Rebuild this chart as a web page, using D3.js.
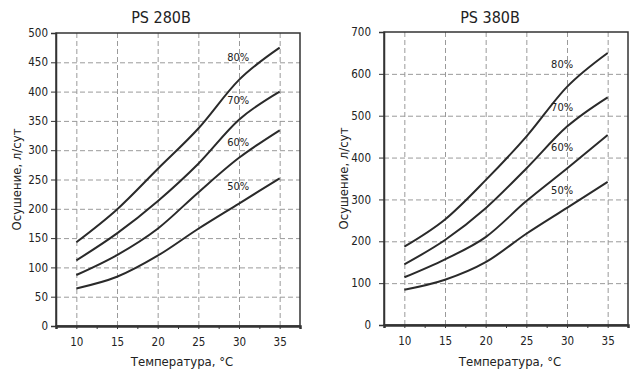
<!DOCTYPE html>
<html>
<head>
<meta charset="utf-8">
<script src="https://cdn.jsdelivr.net/npm/d3@7"></script>
<style>
  body { margin: 0; background: #fff; }
  svg text { font-family: "Liberation Sans Narrow", "DejaVu Sans Condensed", "Liberation Sans", sans-serif; fill: #222; }
  .grid line { stroke: #9a9a9a; stroke-dasharray: 5,3; stroke-width: 1; }
  .grid path { display: none; }
  .axis path, .axis line { stroke: #333; }
</style>
</head>
<body>
<div id="chart"></div>
<script>
//Temperature points shared by both charts
let temps = [10, 15, 20, 25, 30, 35];
let rh_labels = ['80%', '70%', '60%', '50%'];
let x_ticks = [10, 15, 20, 25, 30, 35];

//PS 280B dehumidification, l/day
let ps280_80 = [143, 199, 268, 337, 420, 475];
let ps280_70 = [112, 158, 213, 277, 352, 400];
let ps280_60 = [87, 121, 166, 228, 287, 334];
let ps280_50 = [64, 84, 120, 166, 209, 252];
let ps280_label_t = [29.9, 29.9, 29.9, 29.9];
let ps280_label_v = [459, 386, 314, 239];
let ps280_y_ticks = [0, 50, 100, 150, 200, 250, 300, 350, 400, 450, 500];

//PS 380B dehumidification, l/day
let ps380_80 = [187, 252, 346, 450, 569, 650];
let ps380_70 = [145, 203, 279, 374, 474, 544];
let ps380_60 = [114, 157, 210, 296, 374, 454];
let ps380_50 = [84, 108, 150, 218, 280, 342];
let ps380_label_t = [29.4, 29.4, 29.4, 29.4];
let ps380_label_v = [623, 521, 424, 322];
let ps380_y_ticks = [0, 100, 200, 300, 400, 500, 600, 700];

let svg = d3.select('#chart').append('svg').attr('width', 638).attr('height', 377)

//Panel layout
let panels = [
    {title: 'PS 280B', left: 56, top: 33, width: 244, height: 293, ymax: 500, yticks: ps280_y_ticks,
     series: [ps280_80, ps280_70, ps280_60, ps280_50], label_t: ps280_label_t, label_v: ps280_label_v,
     ypad: 3, title_x: 161, ylabel_x: 21},
    {title: 'PS 380B', left: 384, top: 32, width: 244, height: 293, ymax: 700, yticks: ps380_y_ticks,
     series: [ps380_80, ps380_70, ps380_60, ps380_50], label_t: ps380_label_t, label_v: ps380_label_v,
     ypad: 8, title_x: 490, ylabel_x: 348}
]

panels.forEach(p => drawPanel(p))

function drawPanel(p) {
    let x = d3.scaleLinear().domain([7.5, 37.5]).range([p.left, p.left + p.width])
    let y = d3.scaleLinear().domain([0, p.ymax]).range([p.top + p.height, p.top])

    //Dashed grid lines
    svg.append('g').attr('class', 'grid')
        .attr('transform', 'translate(0,' + (p.top + p.height) + ')')
        .call(d3.axisBottom(x).tickValues(x_ticks).tickSize(-p.height).tickFormat(''))
    svg.append('g').attr('class', 'grid')
        .attr('transform', 'translate(' + p.left + ',0)')
        .call(d3.axisLeft(y).tickValues(p.yticks.slice(1, -1)).tickSize(-p.width).tickFormat(''))

    //Frame
    svg.append('rect').attr('x', p.left).attr('y', p.top).attr('width', p.width).attr('height', p.height)
        .attr('fill', 'none').attr('stroke', '#333').attr('stroke-width', 1.5)

    //Axes
    let minor = d3.range(7.5, 37.6, 2.5)
    let xAxis = svg.append('g').attr('class', 'axis')
        .attr('transform', 'translate(0,' + (p.top + p.height) + ')')
        .call(d3.axisBottom(x).tickValues(minor).tickSize(3).tickPadding(9)
            .tickFormat(d => x_ticks.includes(d) ? d : ''))
    xAxis.select('.domain').attr('stroke-width', 2.5)
    xAxis.selectAll('text').style('font-size', '11.5px')
    let yAxis = svg.append('g').attr('class', 'axis')
        .attr('transform', 'translate(' + p.left + ',0)')
        .call(d3.axisLeft(y).tickValues(p.yticks).tickSize(5).tickPadding(p.ypad))
    yAxis.select('.domain').attr('stroke-width', 1.5)
    yAxis.selectAll('text').style('font-size', '11.5px')

    //Curves
    let line = d3.line().x((d, i) => x(temps[i])).y(d => y(d)).curve(d3.curveMonotoneX)
    p.series.forEach((s, i) => {
        svg.append('path').datum(s).attr('d', line)
            .attr('fill', 'none').attr('stroke', '#2a2a2a').attr('stroke-width', 2)
        svg.append('text').attr('x', x(p.label_t[i])).attr('y', y(p.label_v[i])).attr('dy', '0.35em')
            .attr('text-anchor', 'middle').style('font-size', '11px').text(rh_labels[i])
    })

    //Titles
    svg.append('text').attr('x', p.title_x).attr('y', 23).attr('text-anchor', 'middle')
        .style('font-size', '16px').text(p.title)
    svg.append('text').attr('x', p.left + p.width / 2 + 4).attr('y', 366).attr('text-anchor', 'middle')
        .style('font-size', '13px').text('Температура, °C')
    svg.append('text').attr('transform', 'translate(' + p.ylabel_x + ',' + (p.top + p.height / 2) + ') rotate(-90)')
        .attr('text-anchor', 'middle').style('font-size', '13px').text('Осушение, л/сут')
}
</script>
</body>
</html>
